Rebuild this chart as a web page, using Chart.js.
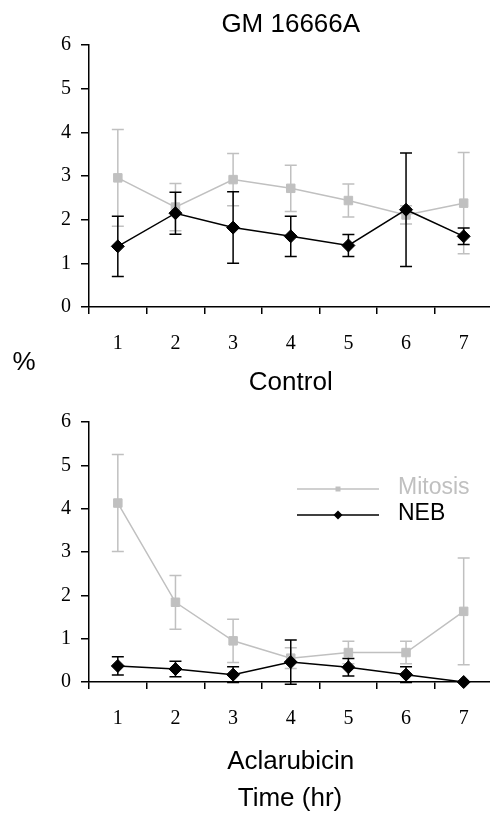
<!DOCTYPE html>
<html>
<head>
<meta charset="UTF-8">
<title>GM 16666A</title>
<script src="https://cdn.jsdelivr.net/npm/chart.js"></script>
<style>
  body { margin: 0; background: #fff; overflow: hidden; }
  #wrap { position: relative; width: 490px; height: 814px; overflow: hidden; font-family: "Liberation Sans", Arial, sans-serif; }
  #topChart, #bottomChart { position: absolute; left: 0; }
  #topChart { top: 0; }
  #bottomChart { top: 400px; }
  .label { position: absolute; font-size: 26px; color: #000; transform: translate(-50%, -50%); white-space: nowrap; }
</style>
</head>
<body>
<div id="wrap">
  <canvas id="topChart" width="500" height="400"></canvas>
  <canvas id="bottomChart" width="500" height="414"></canvas>
  <div class="label" style="left:24px; top:361px">%</div>
  <div class="label" style="left:290px; top:797px">Time (hr)</div>
</div>

<script>
  // time points (hr) and y ticks
  const hours = ["1", "2", "3", "4", "5", "6", "7"];
  const yTicks = [0, 1, 2, 3, 4, 5, 6];

  // Control panel
  const controlMitosis    = [2.96, 2.29, 2.92, 2.72, 2.44, 2.11, 2.38];
  const controlMitosisErr = [1.11, 0.54, 0.60, 0.53, 0.38, 0.21, 1.16];
  const controlNeb        = [1.39, 2.15, 1.82, 1.62, 1.41, 2.23, 1.62];
  const controlNebErr     = [0.69, 0.48, 0.82, 0.46, 0.25, 1.30, 0.19];

  // Aclarubicin panel
  const aclaMitosis    = [4.13, 1.84, 0.95, 0.55, 0.68, 0.68, 1.63];
  const aclaMitosisErr = [1.12, 0.62, 0.50, 0.24, 0.26, 0.26, 1.23];
  const aclaNeb        = [0.37, 0.30, 0.17, 0.46, 0.34, 0.17, 0.00];
  const aclaNebErr     = [0.21, 0.18, 0.18, 0.51, 0.20, 0.18, 0.00];

  const GRAY = "#c0c0c0";
  const SANS = "'Liberation Sans', Arial, sans-serif";
  const SERIF = "'Liberation Serif', 'Times New Roman', serif";

  // vertical error bars with caps, drawn under each dataset's line
  const errorBars = {
    id: "errorBars",
    beforeDatasetDraw(chart, args) {
      const ds = chart.data.datasets[args.index];
      if (!ds.errors) return;
      const y = chart.scales.y;
      const ctx = chart.ctx;
      ctx.save();
      ctx.strokeStyle = ds.borderColor;
      ctx.lineWidth = 1.5;
      args.meta.data.forEach((pt, i) => {
        const e = ds.errors[i];
        if (!e) return;
        const top = y.getPixelForValue(ds.data[i] + e);
        const bot = y.getPixelForValue(ds.data[i] - e);
        ctx.beginPath();
        ctx.moveTo(pt.x, top); ctx.lineTo(pt.x, bot);
        ctx.moveTo(pt.x - 6, top); ctx.lineTo(pt.x + 6, top);
        ctx.moveTo(pt.x - 6, bot); ctx.lineTo(pt.x + 6, bot);
        ctx.stroke();
      });
      ctx.restore();
    }
  };

  // legend inside the lower panel
  const insideLegend = {
    id: "insideLegend",
    afterDraw(chart) {
      const ctx = chart.ctx, a = chart.chartArea;
      chart.data.datasets.forEach((ds, i) => {
        const y = a.top + 67 + i * 26;
        const x0 = a.left + 208, x1 = a.left + 290, xm = a.left + 249;
        ctx.save();
        ctx.strokeStyle = ds.borderColor;
        ctx.fillStyle = ds.borderColor;
        ctx.lineWidth = 1.5;
        ctx.beginPath();
        ctx.moveTo(x0, y); ctx.lineTo(x1, y);
        ctx.stroke();
        ctx.beginPath();
        if (ds.pointStyle === "rect") {
          ctx.rect(xm - 2.5, y - 2.5, 5, 5);
        } else {
          ctx.moveTo(xm, y - 4.5); ctx.lineTo(xm + 4.5, y);
          ctx.lineTo(xm, y + 4.5); ctx.lineTo(xm - 4.5, y);
          ctx.closePath();
        }
        ctx.fill();
        ctx.font = "23px " + SANS;
        ctx.textBaseline = "middle";
        ctx.fillText(ds.label, a.left + 309, y - 1);
        ctx.restore();
      });
    }
  };

  function makeDatasets(mit, mitErr, neb, nebErr) {
    return [
      {
        label: "Mitosis", data: mit, errors: mitErr,
        borderColor: GRAY, backgroundColor: GRAY, borderWidth: 1.5,
        pointStyle: "rect", pointRadius: 6, pointBorderWidth: 1,
        order: 2, clip: false
      },
      {
        label: "NEB", data: neb, errors: nebErr,
        borderColor: "#000", backgroundColor: "#000", borderWidth: 1.5,
        pointStyle: "rectRot", pointRadius: 6.5, pointBorderWidth: 1,
        order: 1, clip: false
      }
    ];
  }

  function makeOptions(xTitle, titlePad, xHeight) {
    return {
      responsive: false,
      animation: false,
      devicePixelRatio: 1,
      layout: { padding: { left: 0, right: 0, top: 0, bottom: 0 } },
      plugins: { legend: { display: false }, tooltip: { enabled: false } },
      scales: {
        x: {
          type: "category",
          labels: hours,
          offset: true,
          afterFit: s => { s.height = xHeight; },
          grid: { offset: true, drawOnChartArea: false, tickLength: 7, color: "#000", lineWidth: 1.5 },
          border: { color: "#000", width: 1.5 },
          ticks: { padding: 18, maxRotation: 0, color: "#000", font: { family: SERIF, size: 20 } },
          title: { display: true, text: xTitle, color: "#000", font: { family: SANS, size: 26 }, padding: titlePad }
        },
        y: {
          min: 0, max: 6,
          afterBuildTicks: s => { s.ticks = yTicks.map(v => ({ value: v })); },
          afterFit: s => { s.width = 89; },
          grid: { drawOnChartArea: false, tickLength: 8, color: "#000", lineWidth: 1.5 },
          border: { color: "#000", width: 1.5 },
          ticks: { padding: 10, color: "#000", font: { family: SERIF, size: 20 } }
        }
      }
    };
  }

  const topOpts = makeOptions("Control", { top: 11, bottom: 2 }, 93);
  topOpts.plugins.title = {
    display: true, text: "GM 16666A", color: "#000", fullSize: false,
    font: { family: SANS, size: 26, weight: "normal" },
    padding: { top: 9, bottom: 5 }
  };

  new Chart(document.getElementById("topChart"), {
    type: "line",
    data: { labels: hours, datasets: makeDatasets(controlMitosis, controlMitosisErr, controlNeb, controlNebErr) },
    options: topOpts,
    plugins: [errorBars]
  });

  const bottomOpts = makeOptions("Aclarubicin", { top: 14, bottom: 37 }, 132);
  bottomOpts.layout.padding.top = 19;

  new Chart(document.getElementById("bottomChart"), {
    type: "line",
    data: { labels: hours, datasets: makeDatasets(aclaMitosis, aclaMitosisErr, aclaNeb, aclaNebErr) },
    options: bottomOpts,
    plugins: [errorBars, insideLegend]
  });
</script>
</body>
</html>
